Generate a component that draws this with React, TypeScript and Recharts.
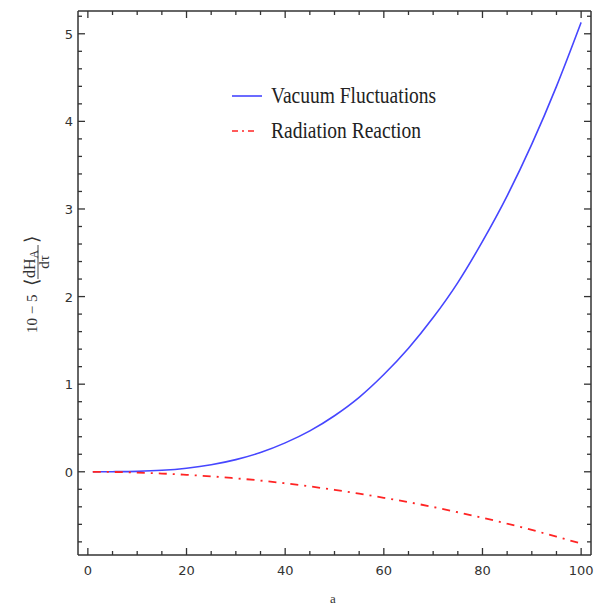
import React from "react";
import { LineChart, Line, XAxis, YAxis, Legend } from "recharts";

// values
const aValues = [1, 5, 10, 15, 20, 25, 30, 35, 40, 45, 50, 55, 60, 65, 70, 75, 80, 85, 90, 95, 100];
const vacuum = [
  0, 0.001, 0.005, 0.017, 0.041, 0.08, 0.139, 0.22, 0.33, 0.467, 0.64,
  0.85, 1.11, 1.41, 1.76, 2.16, 2.63, 3.15, 3.74, 4.4, 5.13,
];
const radiation = [
  0, -0.002, -0.01, -0.02, -0.035, -0.052, -0.075, -0.1, -0.132, -0.167, -0.206,
  -0.25, -0.297, -0.347, -0.402, -0.462, -0.525, -0.592, -0.664, -0.74, -0.82,
];

const xMajor = [0, 20, 40, 60, 80, 100];
const xTicks = [0, 5, 10, 15, 20, 25, 30, 35, 40, 45, 50, 55, 60, 65, 70, 75, 80, 85, 90, 95, 100];
const yMajor = [0, 1, 2, 3, 4, 5];
const yTicks = [
  -0.8, -0.6, -0.4, -0.2, 0, 0.2, 0.4, 0.6, 0.8, 1, 1.2, 1.4, 1.6, 1.8, 2, 2.2, 2.4, 2.6,
  2.8, 3, 3.2, 3.4, 3.6, 3.8, 4, 4.2, 4.4, 4.6, 4.8, 5, 5.2,
];

const data = aValues.map((a, i) => ({ a, vf: vacuum[i], rr: radiation[i] }));

const FRAME = "#333";
const BLUE = "#4646ff";
const RED = "#ff2424";
const DASH = "8 6 2 6";
const tickFont = { fontFamily: "DejaVu Sans", fontSize: 13, fill: "#333" };

const isMajor = (list: number[], v: number) => list.some((m) => Math.abs(m - v) < 1e-6);

const BottomTick = (props: any) => {
  const { x, y, payload } = props;
  const major = isMajor(xMajor, payload.value);
  return (
    <g>
      <line x1={x} y1={y} x2={x} y2={y - (major ? 7 : 4)} stroke={FRAME} strokeWidth={1.3} />
      {major && (
        <text x={x} y={y + 20} textAnchor="middle" {...tickFont}>
          {payload.value}
        </text>
      )}
    </g>
  );
};

const TopTick = (props: any) => {
  const { x, y, payload } = props;
  const major = isMajor(xMajor, payload.value);
  return <line x1={x} y1={y} x2={x} y2={y + (major ? 7 : 4)} stroke={FRAME} strokeWidth={1.3} />;
};

const LeftTick = (props: any) => {
  const { x, y, payload } = props;
  const major = isMajor(yMajor, payload.value);
  return (
    <g>
      <line x1={x} y1={y} x2={x + (major ? 7 : 4)} y2={y} stroke={FRAME} strokeWidth={1.3} />
      {major && (
        <text x={x - 5} y={y + 5} textAnchor="end" {...tickFont}>
          {payload.value}
        </text>
      )}
    </g>
  );
};

const RightTick = (props: any) => {
  const { x, y, payload } = props;
  const major = isMajor(yMajor, payload.value);
  return <line x1={x} y1={y} x2={x - (major ? 7 : 4)} y2={y} stroke={FRAME} strokeWidth={1.3} />;
};

const legendItems = [
  { name: "Vacuum Fluctuations", color: BLUE, dash: undefined as string | undefined },
  { name: "Radiation Reaction", color: RED, dash: "6 4 2 4" },
];

const renderLegend = () => (
  <div style={{ fontFamily: "Liberation Serif", fontSize: 19.5, color: "#222" }}>
    {legendItems.map((it) => (
      <div key={it.name} style={{ display: "flex", alignItems: "center", height: 35 }}>
        <svg width={43} height={10}>
          <line
            x1={4}
            y1={5}
            x2={it.dash ? 28 : 34}
            y2={5}
            stroke={it.color}
            strokeWidth={1.6}
            strokeDasharray={it.dash}
          />
        </svg>
        <span style={{ display: "inline-block", transform: "scaleY(1.15)" }}>{it.name}</span>
      </div>
    ))}
  </div>
);

const YLabel = () => (
  <g transform="translate(37, 333) rotate(-90)" fontFamily="Liberation Serif" fill="#333">
    <text x={0} y={0} fontSize={15}>
      10 − 5
    </text>
    <text x={47} y={1} fontSize={19}>
      ⟨
    </text>
    <text x={55} y={-2} fontSize={16}>
      dH
      <tspan fontSize={12} dy={3}>
        A
      </tspan>
    </text>
    <line x1={54} y1={1} x2={88} y2={1} stroke="#333" strokeWidth={0.9} />
    <text x={71} y={12} fontSize={15} textAnchor="middle">
      dτ
    </text>
    <text x={90} y={1} fontSize={19}>
      ⟩
    </text>
  </g>
);

export default function App() {
  return (
    <div style={{ position: "absolute", left: 0, top: 0, width: 598, height: 605, background: "#fff" }}>
      <LineChart width={598} height={605} data={data} margin={{ top: 0, right: 0, bottom: 0, left: 0 }}>
        <XAxis
          xAxisId="b"
          dataKey="a"
          type="number"
          orientation="bottom"
          domain={[-2, 102]}
          allowDataOverflow
          ticks={xTicks}
          interval={0}
          height={50}
          tickSize={0}
          tickMargin={0}
          tickLine={false}
          tick={BottomTick}
          axisLine={{ stroke: FRAME, strokeWidth: 1.5 }}
        />
        <XAxis
          xAxisId="t"
          dataKey="a"
          type="number"
          orientation="top"
          domain={[-2, 102]}
          allowDataOverflow
          ticks={xTicks}
          interval={0}
          height={11}
          tickSize={0}
          tickMargin={0}
          tickLine={false}
          tick={TopTick}
          axisLine={{ stroke: FRAME, strokeWidth: 1.5 }}
        />
        <YAxis
          yAxisId="l"
          type="number"
          orientation="left"
          domain={[-0.95, 5.26]}
          allowDataOverflow
          ticks={yTicks}
          interval={0}
          width={78}
          tickSize={0}
          tickMargin={0}
          tickLine={false}
          tick={LeftTick}
          axisLine={{ stroke: FRAME, strokeWidth: 1.5 }}
        />
        <YAxis
          yAxisId="r"
          type="number"
          orientation="right"
          domain={[-0.95, 5.26]}
          allowDataOverflow
          ticks={yTicks}
          interval={0}
          width={7}
          tickSize={0}
          tickMargin={0}
          tickLine={false}
          tick={RightTick}
          axisLine={{ stroke: FRAME, strokeWidth: 1.5 }}
        />
        <Line
          xAxisId="b"
          yAxisId="l"
          type="monotone"
          dataKey="vf"
          name="Vacuum Fluctuations"
          stroke={BLUE}
          strokeWidth={1.6}
          dot={false}
          isAnimationActive={false}
        />
        <Line
          xAxisId="b"
          yAxisId="l"
          type="monotone"
          dataKey="rr"
          name="Radiation Reaction"
          stroke={RED}
          strokeWidth={1.8}
          strokeDasharray={DASH}
          dot={false}
          isAnimationActive={false}
        />
        <Legend
          layout="horizontal"
          verticalAlign="middle"
          align="center"
          content={renderLegend}
          wrapperStyle={{ left: 228, top: 78, width: 260 }}
        />
        <YLabel />
        <text x={333} y={603} textAnchor="middle" fontFamily="Liberation Serif" fontSize={13} fill="#333">
          a
        </text>
      </LineChart>
    </div>
  );
}
